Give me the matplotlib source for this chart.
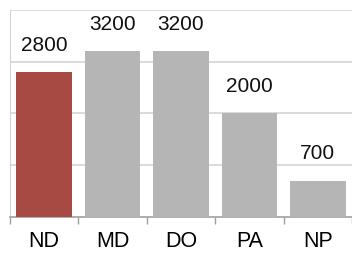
import numpy as np
import matplotlib
matplotlib.use("Agg")
import matplotlib.pyplot as plt

cats = ['ND', 'MD', 'DO', 'PA', 'NP']
vals = [2800, 3200, 3200, 2000, 700]
colors = ['#a84a44', '#b5b5b5', '#b5b5b5', '#b5b5b5', '#b5b5b5']

plt.rcParams['font.family'] = ['Liberation Sans', 'DejaVu Sans']

fig = plt.figure(figsize=(3.52, 2.54), dpi=100)
ax = fig.add_axes([10/352, 37/254, 342/352, 207/254])

x = np.arange(len(cats))
bars = ax.bar(x, vals, width=0.81, color=colors, zorder=3)

for xi, v in zip(x, vals):
    ax.annotate(str(v), (xi, v), xytext=(0, 12.5), textcoords='offset points',
                ha='center', va='bottom', fontsize=15, color='#111111')

ax.set_ylim(0, 4000)
ax.set_xlim(-0.5, 4.5 - 3/69)
ax.set_yticks([1000, 2000, 3000, 4000])
ax.yaxis.grid(True, color='#d4d4d4', linewidth=1.2, zorder=0)
ax.tick_params(axis='y', length=0, labelleft=False)

ax.set_xticks(x)
ax.set_xticklabels(cats, fontsize=15.5)
ax.set_xticks(np.arange(-0.5, 5, 1), minor=True)
ax.tick_params(axis='x', which='major', length=0, pad=10)
ax.tick_params(axis='x', which='minor', length=5, color='#a0a0a0', width=1)

for s in ['top', 'right']:
    ax.spines[s].set_visible(False)
ax.spines['left'].set_color('#d4d4d4')
ax.spines['bottom'].set_color('#a0a0a0')
ax.spines['bottom'].set_linewidth(1.2)
ax.set_axisbelow(True)

fig.savefig('out.png', dpi=100)
